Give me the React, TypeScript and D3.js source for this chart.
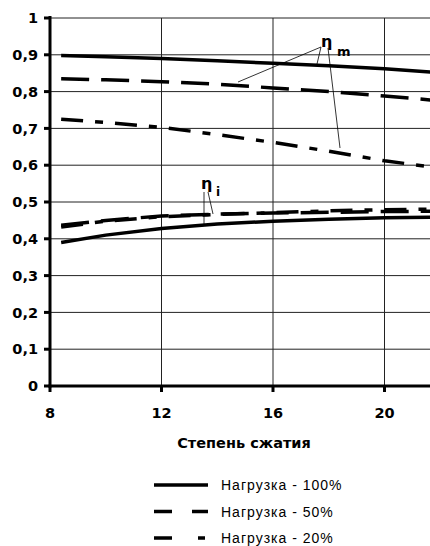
import React from "react";
import * as d3 from "d3";

const xValues = [8.4, 10, 12, 14, 16, 18, 20, 22];
const etaM100 = [0.898, 0.895, 0.89, 0.884, 0.877, 0.87, 0.862, 0.851];
const etaM50 = [0.835, 0.832, 0.827, 0.82, 0.81, 0.8, 0.788, 0.775];
const etaM20 = [0.725, 0.716, 0.703, 0.683, 0.662, 0.638, 0.612, 0.592];
const etaI100 = [0.39, 0.41, 0.428, 0.44, 0.448, 0.453, 0.457, 0.459];
const etaI50 = [0.437, 0.45, 0.462, 0.467, 0.47, 0.472, 0.474, 0.475];
const etaI20 = [0.432, 0.448, 0.46, 0.466, 0.471, 0.476, 0.479, 0.481];

const xTicks = [8, 12, 16, 20];
const yTicks = [0, 0.1, 0.2, 0.3, 0.4, 0.5, 0.6, 0.7, 0.8, 0.9, 1];
const xLabel = "Степень сжатия";
const legendLabels = ["Нагрузка - 100%", "Нагрузка - 50%", "Нагрузка - 20%"];

const W = 430;
const H = 546;

export default function App() {
  const x = d3.scaleLinear().domain([8, 24]).range([50, 496]);
  const y = d3.scaleLinear().domain([0, 1]).range([386, 18]);
  const line = d3
    .line<number>()
    .x((_, i) => x(xValues[i]))
    .y((d) => y(d));

  const solid = undefined;
  const dashed = "28,12";
  const dashDot = "22,12,8,12";

  const series = [
    { v: etaM100, dash: solid },
    { v: etaM50, dash: dashed },
    { v: etaM20, dash: dashDot },
    { v: etaI100, dash: solid },
    { v: etaI50, dash: dashed },
    { v: etaI20, dash: dashDot },
  ];

  const legendDash = [undefined, "18,20", "18,26,7,20"];

  const boldFont = "'DejaVu Sans', sans-serif";
  const legFont = "'Liberation Sans', Arial, sans-serif";

  return (
    <div style={{ position: "absolute", left: 0, top: 0 }}>
      <svg width={W} height={H} style={{ display: "block", background: "#fff" }}>
        {yTicks
          .filter((t) => t > 0)
          .map((t) => (
            <line key={"gy" + t} x1={x(8)} x2={W} y1={y(t)} y2={y(t)} stroke="#222" strokeWidth={1} />
          ))}
        {xTicks
          .filter((t) => t > 8)
          .map((t) => (
            <line key={"gx" + t} x1={x(t)} x2={x(t)} y1={y(1)} y2={y(0)} stroke="#222" strokeWidth={1} />
          ))}
        {series.map((s, i) => (
          <path
            key={"s" + i}
            d={line(s.v) || ""}
            fill="none"
            stroke="#000"
            strokeWidth={3.5}
            strokeDasharray={s.dash}
          />
        ))}
        <line x1={x(8)} x2={x(8)} y1={y(1) - 2} y2={y(0) + 1.5} stroke="#000" strokeWidth={3} />
        <line x1={x(8) - 1.5} x2={W} y1={y(0)} y2={y(0)} stroke="#000" strokeWidth={3} />
        {yTicks.map((t) => (
          <line key={"ty" + t} x1={x(8) - 6} x2={x(8)} y1={y(t)} y2={y(t)} stroke="#000" strokeWidth={3} />
        ))}
        {xTicks.map((t) => (
          <line key={"tx" + t} x1={x(t)} x2={x(t)} y1={y(0)} y2={y(0) + 6} stroke="#000" strokeWidth={3} />
        ))}
        {yTicks.map((t) => (
          <text
            key={"ly" + t}
            x={38}
            y={y(t)}
            dy="0.36em"
            textAnchor="end"
            fontFamily={boldFont}
            fontWeight="bold"
            fontSize={14.5}
          >
            {t === 0 ? "0" : t === 1 ? "1" : d3.format(".1f")(t).replace(".", ",")}
          </text>
        ))}
        {xTicks.map((t) => (
          <text
            key={"lx" + t}
            x={x(t)}
            y={418}
            textAnchor="middle"
            fontFamily={boldFont}
            fontWeight="bold"
            fontSize={14.5}
          >
            {t}
          </text>
        ))}
        <text x={244} y={448} textAnchor="middle" fontFamily={boldFont} fontWeight="bold" fontSize={14.5}>
          {xLabel}
        </text>

        <g stroke="#000" strokeWidth={0.8} fill="none">
          <line x1={321} y1={47} x2={238} y2={82} />
          <line x1={321} y1={47} x2={317} y2={64} />
          <line x1={328} y1={48} x2={340} y2={148} />
          <line x1={204} y1={192} x2={204} y2={225} />
          <line x1={208} y1={192} x2={213} y2={214} />
        </g>
        <text x={321} y={47} fontFamily={boldFont} fontWeight="bold" fontSize={16}>
          η
        </text>
        <text x={337} y={56} fontFamily={boldFont} fontWeight="bold" fontSize={13}>
          m
        </text>
        <text x={201} y={189} fontFamily={boldFont} fontWeight="bold" fontSize={16}>
          η
        </text>
        <text x={216} y={196} fontFamily={boldFont} fontWeight="bold" fontSize={12}>
          i
        </text>

        {legendLabels.map((lab, i) => {
          const ly = 485 + i * 26.5;
          return (
            <g key={"lg" + i}>
              <line x1={154} x2={208} y1={ly} y2={ly} stroke="#000" strokeWidth={3.5} strokeDasharray={legendDash[i]} />
              <text x={221} y={ly} dy="0.36em" fontFamily={legFont} fontSize={14} letterSpacing={1}>
                {lab}
              </text>
            </g>
          );
        })}
      </svg>
    </div>
  );
}
